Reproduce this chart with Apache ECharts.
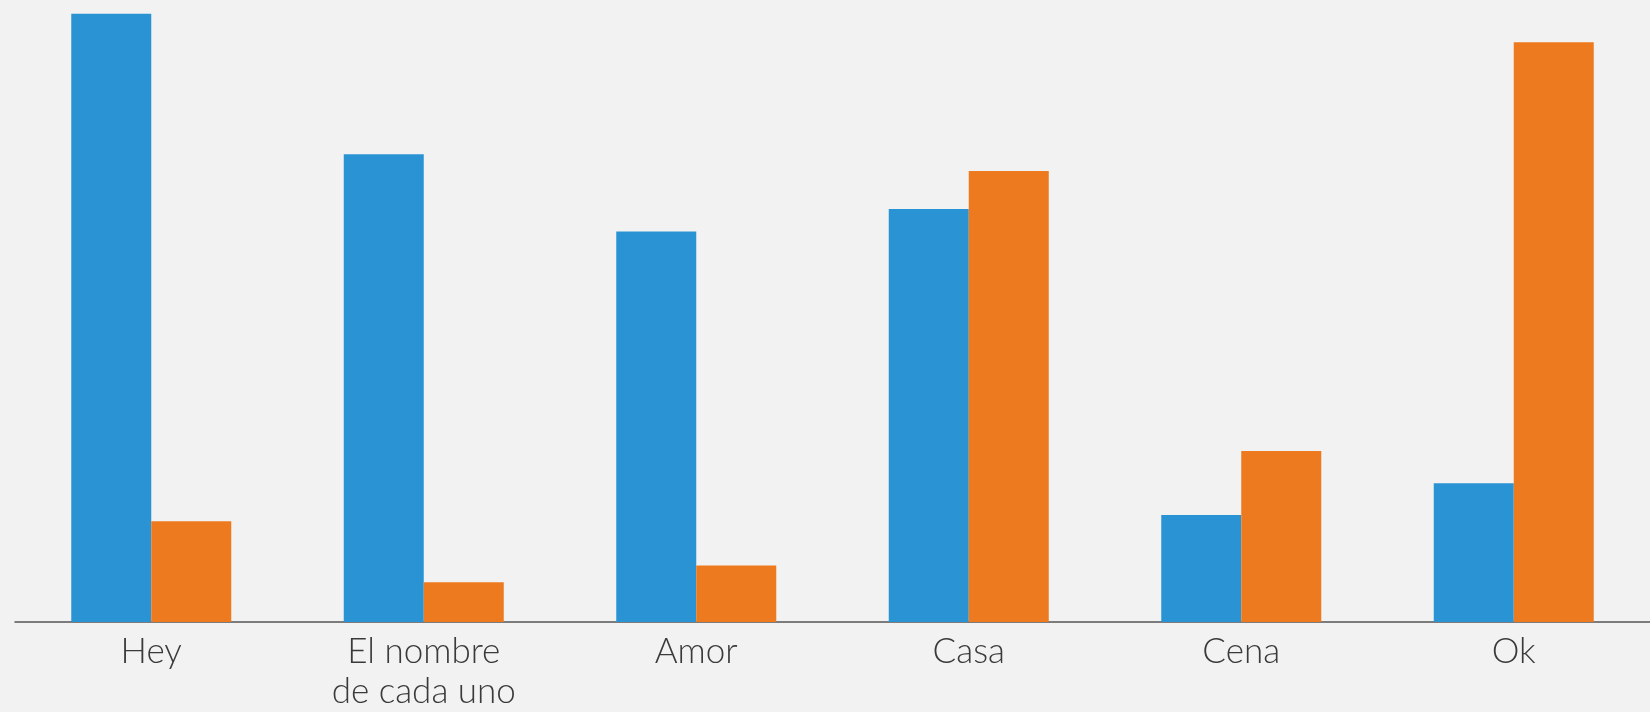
<!DOCTYPE html>
<html>
<head>
<meta charset="utf-8">
<script src="https://cdn.jsdelivr.net/npm/echarts@6/dist/echarts.min.js"></script>
<style>
  html, body { margin: 0; padding: 0; background: #f2f2f2; }
  #chart { width: 1650px; height: 712px; }
</style>
</head>
<body>
<div id="chart"></div>
<script>
const categories = ["Hey", "El nombre\nde cada uno", "Amor", "Casa", "Cena", "Ok"];
const blueValues = [97.8, 75.2, 62.8, 66.4, 17.2, 22.3];
const orangeValues = [16.2, 6.4, 9.1, 72.5, 27.5, 93.2];

const chart = echarts.init(document.getElementById("chart"));

chart.setOption({
  backgroundColor: "#f2f2f2",
  animation: false,
  grid: { left: 15, right: -1, top: 0, bottom: 89 },
  xAxis: {
    type: "category",
    data: categories,
    axisLine: { lineStyle: { color: "#555", width: 1.5 } },
    axisTick: { show: false },
    axisLabel: {
      color: "#3a3a3a",
      fontFamily: "Lato",
      fontWeight: 300,
      fontSize: 35,
      lineHeight: 40,
      margin: 10
    }
  },
  yAxis: {
    type: "value",
    min: 0,
    max: 100,
    show: false,
    splitLine: { show: false }
  },
  series: [
    {
      type: "bar",
      data: blueValues,
      barWidth: 80,
      barGap: "0%",
      itemStyle: { color: "#2a93d4" }
    },
    {
      type: "bar",
      data: orangeValues,
      barWidth: 80,
      itemStyle: { color: "#ed7a1e" }
    }
  ]
});
</script>
</body>
</html>
